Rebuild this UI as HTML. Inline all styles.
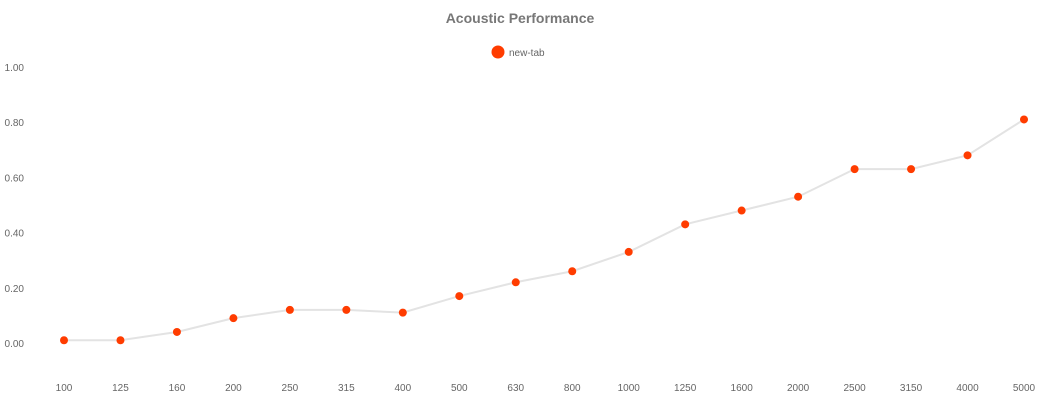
<!DOCTYPE html>
<html><head><meta charset="utf-8"><style>
body{margin:0;background:#fff;width:1040px;height:400px;overflow:hidden}
text{font-family:"Liberation Sans",sans-serif}
</style></head><body>
<svg id="chart" width="1040" height="400">
<text x="520" y="23" text-anchor="middle" font-size="14" font-weight="bold" fill="#777">Acoustic Performance</text>
<g>
<circle cx="498" cy="52" r="6.5" fill="#ff3c00"></circle>
<text x="509" y="56" font-size="10" fill="#666">new-tab</text>
</g>
<g id="yaxis"></g>
<g id="xaxis"></g>
<g id="series"></g>
</svg>
<script>
const categories = ["100","125","160","200","250","315","400","500","630","800","1000","1250","1600","2000","2500","3150","4000","5000"];
const values = [0.01,0.01,0.04,0.09,0.12,0.12,0.11,0.17,0.22,0.26,0.33,0.43,0.48,0.53,0.63,0.63,0.68,0.81];
const yTicks = [0,0.2,0.4,0.6,0.8,1.0];
const yTickLabels = ["0.00","0.20","0.40","0.60","0.80","1.00"];
const NS="http://www.w3.org/2000/svg";
const x0=64,x1=1024,yZero=343,yOne=67;
function xs(i){return x0+(x1-x0)*i/(categories.length-1);}
function ys(v){return yZero-(yZero-yOne)*v;}
function mk(tag,attrs,parent){const e=document.createElementNS(NS,tag);for(const k in attrs)e.setAttribute(k,attrs[k]);parent.appendChild(e);return e;}
const ya=document.getElementById('yaxis'),xa=document.getElementById('xaxis'),sg=document.getElementById('series');
yTicks.forEach((t,i)=>{
 const el=mk('text',{x:24,y:ys(t)+4,'text-anchor':'end','font-size':10,fill:'#666'},ya);
 el.textContent=yTickLabels[i];
 
 
});
categories.forEach((c,i)=>{
 const el=mk('text',{x:xs(i),y:391,'text-anchor':'middle','font-size':10,fill:'#666'},xa);
 el.textContent=c;
 
 
});
const line=mk('polyline',{points:values.map((v,i)=>xs(i)+','+ys(v)).join(' '),fill:'none',stroke:'#e3e3e3','stroke-width':2},sg);


values.forEach((v,i)=>{
 const p=mk('circle',{cx:xs(i),cy:ys(v),r:4,fill:'#ff3c00'},sg);
 
 
});
</script>
</body></html>
